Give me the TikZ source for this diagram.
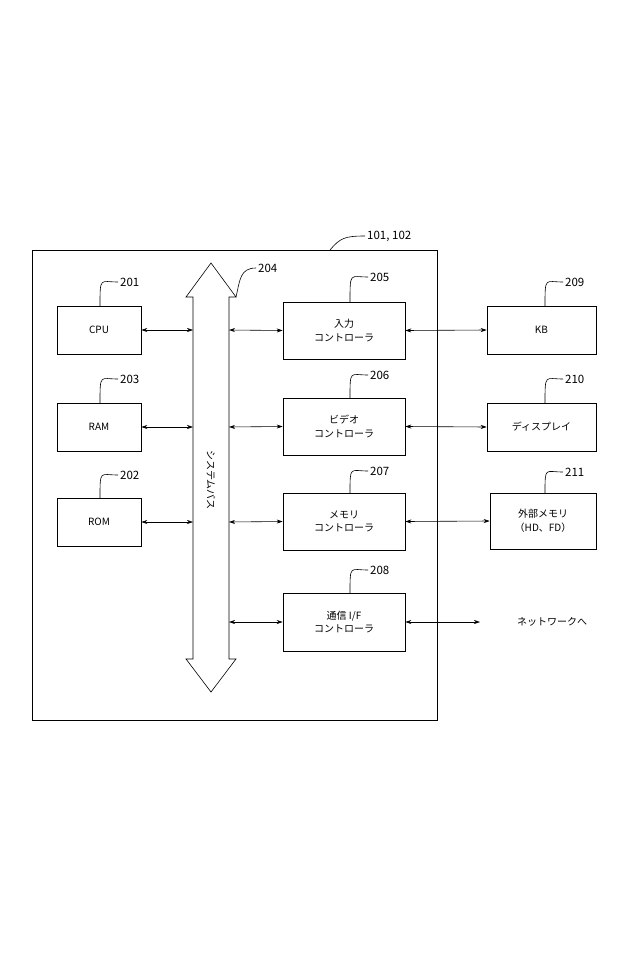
\documentclass[tikz,border=0pt]{standalone}
\usepackage{fontspec}
\setmainfont{Noto Sans CJK JP}
\usetikzlibrary{arrows.meta}
\begin{document}
\begin{tikzpicture}[x=1pt,y=-1pt,
 box/.style={draw,line width=0.6pt,minimum width=#1,inner sep=0pt,align=center,font=\fontsize{10}{13.5}\selectfont},
 lbl/.style={font=\fontsize{11.5}{13}\selectfont,anchor=west,inner sep=1pt},
 ld/.style={line width=0.6pt},
 con/.style={line width=0.6pt,{Stealth[length=6pt,width=4pt]}-{Stealth[length=6pt,width=4pt]}}]
\useasboundingbox (0,0) rectangle (640,960);
\draw[line width=0.6pt] (32,250) rectangle (437,720);
% bus
\draw[line width=0.6pt,fill=white] (211,263) -- (236,297) -- (229,297) -- (229,659) -- (236,659) -- (211,692) -- (186,659) -- (193,659) -- (193,297) -- (186,297) -- cycle;
\node[rotate=-90,font=\fontsize{10}{12}\selectfont] (busl) at (211,480) {システムバス};
\coordinate (bl1) at (193,330); \coordinate (bl2) at (193,427); \coordinate (bl3) at (193,522);
\coordinate (br1) at (229,330); \coordinate (br2) at (229,427); \coordinate (br3) at (229,522); \coordinate (br4) at (229,622);
% left boxes
\node[box=84pt,minimum height=48pt] (cpu) at (99,330) {CPU};
\node[box=84pt,minimum height=48pt] (ram) at (99,427) {RAM};
\node[box=84pt,minimum height=48pt] (rom) at (99,522) {ROM};
% controllers
\node[box=122pt,minimum height=57pt] (c5) at (344,330.5) {入力\\コントローラ};
\node[box=122pt,minimum height=57pt] (c6) at (344,426.5) {ビデオ\\コントローラ};
\node[box=122pt,minimum height=57pt] (c7) at (344,521.5) {メモリ\\コントローラ};
\node[box=122pt,minimum height=58pt] (c8) at (344,622) {通信 I/F\\コントローラ};
% right
\node[box=109pt,minimum height=48pt] (kb) at (541.5,330) {KB};
\node[box=109pt,minimum height=48pt] (disp) at (541.5,427) {ディスプレイ};
\node[box=106pt,minimum height=56pt] (ext) at (543,521) {外部メモリ\\（HD、FD）};
\node[font=\fontsize{10}{12}\selectfont] (net) at (552,622) {ネットワークへ};
\coordinate (nete) at (480,622);
% connectors
\draw[con] (cpu.east) -- (bl1); \draw[con] (ram.east) -- (bl2); \draw[con] (rom.east) -- (bl3);
\draw[con] (br1) -- (c5.west); \draw[con] (br2) -- (c6.west); \draw[con] (br3) -- (c7.west); \draw[con] (br4) -- (c8.west);
\draw[con] (c5.east) -- (kb.west); \draw[con] (c6.east) -- (disp.west); \draw[con] (c7.east) -- (ext.west); \draw[con] (c8.east) -- (nete);
% labels
\newcommand\lead[4]{\draw[ld] (#1,#2) .. controls (#1,#3-6) and (#1,#3) .. (#1+18,#3); \node[lbl] at (#1+19,#3) {#4};}
\lead{100}{306}{282}{201}
\lead{100}{403}{379}{203}
\lead{100}{498}{475}{202}
\draw[ld] (236,297) .. controls (240,280) and (240,268) .. (256,268); \node[lbl] at (257,268) {204};
\lead{350}{302}{277}{205}
\lead{350}{398}{375}{206}
\lead{350}{493}{471}{207}
\lead{350}{593}{570}{208}
\lead{545}{306}{282}{209}
\lead{545}{403}{379}{210}
\lead{545}{493}{472}{211}
\draw[ld] (330,250) .. controls (340,238) and (345,236) .. (365,236); \node[lbl] at (366,236) {101, 102};
\end{tikzpicture}
\end{document}
